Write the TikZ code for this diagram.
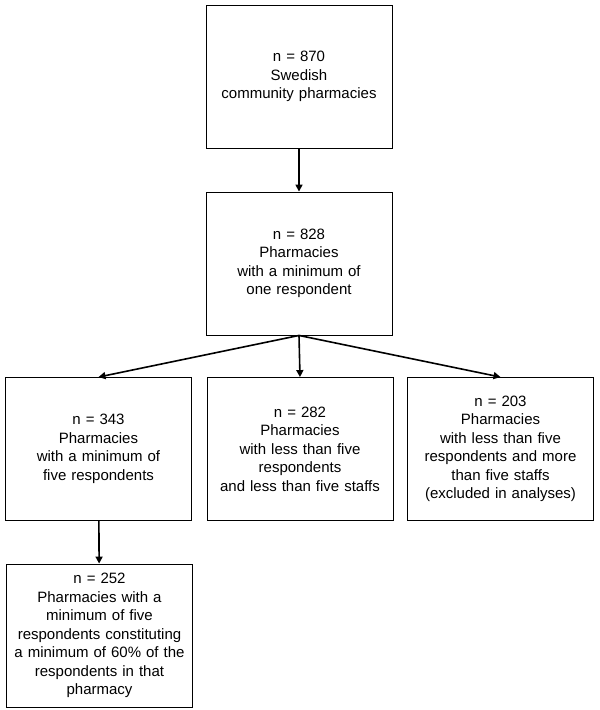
\documentclass[tikz,border=0pt]{standalone}
\usepackage{fontspec}
\setmainfont{Liberation Sans}
\usepackage{tikz}
\usetikzlibrary{arrows.meta, positioning}

\tikzset{
    flowbox/.style={draw, line width=0.9pt, minimum width=186pt, minimum height=143pt,
        text width=180pt, align=center, inner sep=0pt,
        font=\fontsize{15}{18.5}\selectfont},
    flowarrow/.style={line width=1.6pt, -{Triangle[length=7pt,width=7pt]}}
}

\begin{document}
\begin{tikzpicture}[x=1pt,y=-1pt]
    \useasboundingbox (0,0) rectangle (600,710);
    % Top of the chart
    \node[flowbox] (all) at (299,76.5) {n = 870\\Swedish\\community pharmacies};
    \node[flowbox] (one) at (299,263.5) {n = 828\\Pharmacies\\with a minimum of\\one respondent};
    % Second row
    \node[flowbox] (five) at (98.5,449) {n = 343\\Pharmacies\\with a minimum of\\five respondents};
    \node[flowbox] (less) at (300,449) {n = 282\\Pharmacies\\with less than five\\respondents\\and less than five staffs};
    \node[flowbox] (excl) at (500.5,449) {n = 203\\Pharmacies\\with less than five\\respondents and more\\than five staffs\\(excluded in analyses)};
    % Last box
    \node[flowbox] (sixty) at (99.5,635.5) {n = 252\\Pharmacies with a\\minimum of five\\respondents constituting\\a minimum of 60\% of the\\respondents in that\\pharmacy};

    % Arrows
    \draw[flowarrow] (all) -- (one);
    \draw[flowarrow] (one.south) -- (five.north);
    \draw[flowarrow] (one.south) -- (less.north);
    \draw[flowarrow] (one.south) -- (excl.north);
    \draw[flowarrow] (five) -- (sixty);
\end{tikzpicture}
\end{document}
